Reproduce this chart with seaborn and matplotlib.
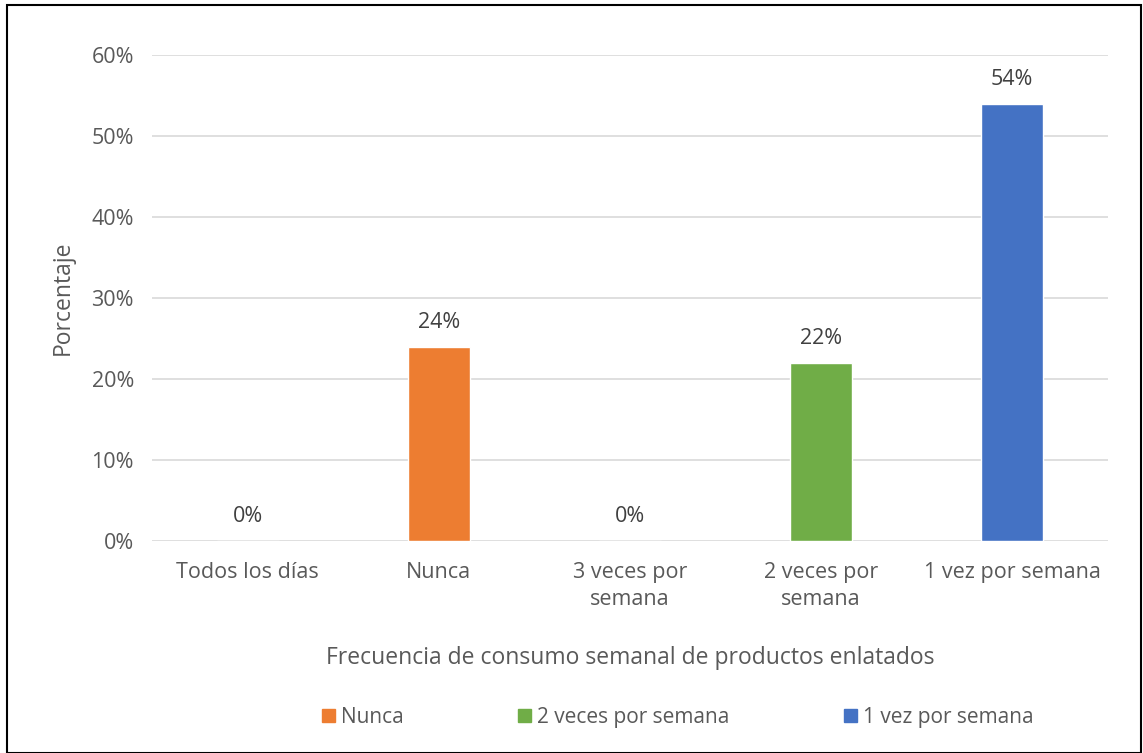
import matplotlib
matplotlib.use("Agg")
import matplotlib.pyplot as plt
import matplotlib.patches as mpatches
import seaborn as sns
import pandas as pd

categories = ["Todos los días", "Nunca", "3 veces por\nsemana", "2 veces por\nsemana", "1 vez por semana"]
values = [0, 24, 0, 22, 54]
legend_labels = ["Nunca", "2 veces por semana", "1 vez por semana"]
colors = ["#4472C4", "#ED7D31", "#A5A5A5", "#70AD47", "#4472C4"]
legend_colors = ["#ED7D31", "#70AD47", "#4472C4"]
yticks = [0, 10, 20, 30, 40, 50, 60]

sns.set_theme(style="white")
plt.rcParams["font.family"] = ["Open Sans", "DejaVu Sans"]
text_color = "#595959"

df = pd.DataFrame({"cat": categories, "val": values})

fig = plt.figure(figsize=(11.43, 7.53), dpi=100)
ax = fig.add_axes([0.133, 0.2815, 0.836, 0.6455])

sns.barplot(data=df, x="cat", y="val", hue="cat", palette=dict(zip(categories, colors)),
            dodge=False, width=0.325, legend=False, ax=ax, saturation=1)

ax.set_ylim(0, 60)
ax.set_yticks(yticks)
ax.set_yticklabels([f"{t}%" for t in yticks])
ax.yaxis.grid(True, color="#D9D9D9", linewidth=1.2)
ax.set_axisbelow(True)
for s in ax.spines.values():
    s.set_visible(False)
ax.tick_params(axis="both", length=0, labelsize=15.5, colors=text_color)
ax.tick_params(axis="y", pad=13)
ax.tick_params(axis="x", pad=15)
for lbl in ax.get_xticklabels():
    lbl.set_linespacing(1.4)

for cont in ax.containers:
    ax.bar_label(cont, labels=[f"{v:.0f}%" for v in cont.datavalues], padding=10,
                 fontsize=15.5, color="#404040")

ax.set_xlabel("Frecuencia de consumo semanal de productos enlatados", fontsize=16.5,
              color=text_color, labelpad=26)
ax.set_ylabel("Porcentaje", fontsize=16.5, color=text_color, labelpad=12)

handles = [mpatches.Patch(color=c, label=l) for c, l in zip(legend_colors, legend_labels)]
fig.legend(handles=handles, loc="center", bbox_to_anchor=(0.593, 0.047), ncol=3,
           frameon=False, fontsize=15, labelcolor=text_color, handlelength=0.6,
           handleheight=0.6, handletextpad=0.3, columnspacing=5.5)

fig.patches.append(mpatches.Rectangle((0.006, 0.0), 0.992, 0.993, transform=fig.transFigure,
                                      fill=False, edgecolor="black", linewidth=1.5))

fig.savefig("out.png", dpi=100)
